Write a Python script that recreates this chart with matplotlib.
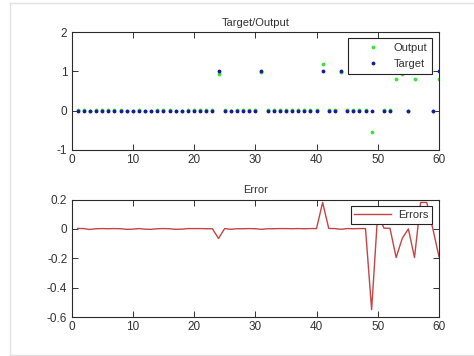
import numpy as np
import matplotlib
matplotlib.use("Agg")
import matplotlib.pyplot as plt
from matplotlib.lines import Line2D

plt.rcParams['font.family'] = ['Liberation Sans', 'DejaVu Sans']
plt.rcParams['axes.unicode_minus'] = False

x = list(range(1, 61))
target = [0]*60
for i in [24, 31, 41, 44, 50, 53, 54, 56, 57, 58, 60]:
    target[i-1] = 1
errors = [0.003, 0.002, -0.004, 0.001, 0.002, 0.001, 0.002, 0.001, -0.003, -0.002,
          0.002, -0.002, -0.003, 0.001, 0.002, 0.001, -0.003, -0.002, 0.002, 0.002,
          0.002, 0.001, 0.001, -0.065, 0.002, -0.003, 0.001, 0.001, 0.002, 0.001,
          -0.003, 0.001, 0.001, 0.002, 0.002, 0.001, 0.002, 0.001, 0.002, 0.002,
          0.18, 0.003, 0.002, -0.003, 0.002, 0.001, 0.002, 0.002, -0.55, 0.11,
          0.005, 0.004, -0.195, -0.065, 0.0, -0.195, 0.18, 0.18, 0.0, -0.19]
output = [t + e for t, e in zip(target, errors)]

W, H = 474, 356
fig = plt.figure(figsize=(W/100, H/100), dpi=100)
fig.patch.set_facecolor('white')

# faint frame
fig.add_artist(Line2D([10/W, 10/W], [1/H, 1-3/H], color='#e2e2e2', lw=1))
fig.add_artist(Line2D([10/W, 1], [1-3/H, 1-3/H], color='#e2e2e2', lw=1))
fig.add_artist(Line2D([10/W, 1], [1/H, 1/H], color='#e2e2e2', lw=1))

left = 71.5/W
width = (439-71.5)/W
ax1 = fig.add_axes([left, 1-149.5/H, width, 117/H])
ax2 = fig.add_axes([left, 1-317/H, width, 117.5/H])

tc = '#333333'
green = '#3ee03e'
blue = '#1a1a9a'
red = '#c44444'

for ax in (ax1, ax2):
    ax.tick_params(direction='in', length=4, width=0.7, top=True, right=True,
                   labelsize=8.5, colors=tc, pad=3)
    for s in ax.spines.values():
        s.set_color('#2a2a2a')
        s.set_linewidth(0.8)
    ax.set_xlim(0, 60)
    ax.set_xticks([0, 10, 20, 30, 40, 50, 60])

ax1.plot(x, output, linestyle='none', marker='.', markersize=3.5, color=green, label='Output')
ax1.plot(x, target, linestyle='none', marker='.', markersize=3.5, color=blue, label='Target')
ax1.set_ylim(-1, 2)
ax1.set_yticks([-1, 0, 1, 2])
ax1.set_title('Target/Output', fontsize=8, color=tc, pad=5)
leg1 = ax1.legend(loc='upper right', bbox_to_anchor=(432/W, 1-38/H),
                  bbox_transform=fig.transFigure, borderaxespad=0,
                  fontsize=8, frameon=True, fancybox=False, framealpha=1,
                  edgecolor='#222222', borderpad=0.45, handlelength=3.6,
                  handletextpad=0.0, labelspacing=0.5, numpoints=1)
leg1.get_frame().set_linewidth(0.8)
for t in leg1.get_texts():
    t.set_color(tc)

ax2.plot(x, errors, color=red, lw=1.0, label='Errors')
ax2.set_ylim(-0.6, 0.2)
ax2.set_yticks([-0.6, -0.4, -0.2, 0, 0.2])
ax2.set_yticklabels(['-0.6', '-0.4', '-0.2', '0', '0.2'])
ax2.set_title('Error', fontsize=8, color=tc, pad=5)
leg2 = ax2.legend(loc='upper right', bbox_to_anchor=(432/W, 1-206/H),
                  bbox_transform=fig.transFigure, borderaxespad=0,
                  fontsize=8, frameon=True, fancybox=False, framealpha=1,
                  edgecolor='#222222', borderpad=0.35, handlelength=3.3,
                  handletextpad=0.6)
leg2.get_frame().set_linewidth(0.8)
for t in leg2.get_texts():
    t.set_color(tc)

fig.savefig('out.png', dpi=100, facecolor='white')
